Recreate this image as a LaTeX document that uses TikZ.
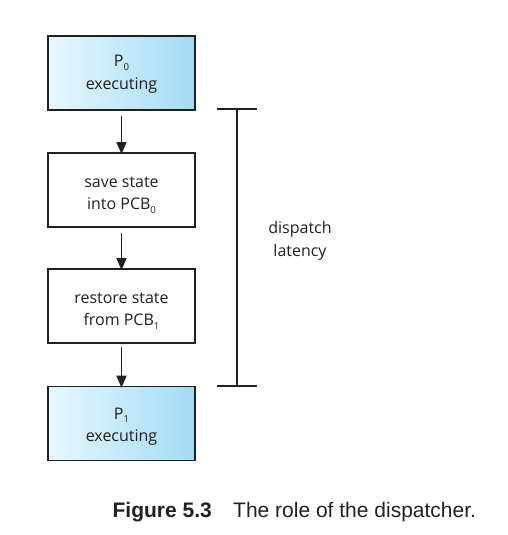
\documentclass[tikz,border=0pt]{standalone}
\usepackage{fontspec}
\setmainfont{Open Sans}
\newfontfamily\capfont{Liberation Sans}
\usetikzlibrary{arrows.meta}
\newcommand{\mysub}[1]{\raisebox{-0.45ex}{\scalebox{0.6}{#1}}}
\definecolor{lightL}{RGB}{232,248,254}
\definecolor{lightR}{RGB}{162,219,243}
\definecolor{ink}{RGB}{35,31,32}
\tikzset{
  box/.style={draw=ink, line width=1.8pt, minimum width=147pt, minimum height=74pt},
  procbox/.style={box, left color=lightL, right color=lightR},
  boxtext/.style={align=center, font=\fontsize{16}{22.5}\selectfont, text=ink},
  flow/.style={draw=ink, line width=1.5pt, -{Triangle[length=12pt,width=10pt]}},
  brk/.style={draw=ink, line width=1.4pt},
  captext/.style={font=\capfont\fontsize{21}{24}\selectfont, text=ink, inner sep=0pt}
}
\begin{document}
\begin{tikzpicture}[x=1pt,y=-1pt]
\useasboundingbox (0,0) rectangle (507,535);
\node[procbox, label={[boxtext,yshift=-1pt]center:{P\mysub{0}\\executing}}] (p0) at (121.5,73) {};
\node[box, label={[boxtext,yshift=-5pt]center:{save state\\into PCB\mysub{0}}}] (save) at (121.5,190) {};
\node[box, label={[boxtext,yshift=-5pt]center:{restore state\\from PCB\mysub{1}}}] (rest) at (121.5,306) {};
\node[procbox, label={[boxtext,yshift=-3pt]center:{P\mysub{1}\\executing}}] (p1) at (121.5,423.5) {};
\draw[flow] ([yshift=-5pt]p0.south) -- ([yshift=-2pt]save.north);
\draw[flow] ([yshift=-5pt]save.south) -- ([yshift=-2pt]rest.north);
\draw[flow] ([yshift=-3pt]rest.south) -- ([yshift=-2pt]p1.north);
\coordinate (t1) at (217,109);
\coordinate (t2) at (257,109);
\coordinate (b1) at (217,386);
\coordinate (b2) at (257,386);
\coordinate (tm) at (237,109);
\coordinate (bm) at (237,386);
\draw[brk] (t1) -- (t2);
\draw[brk] (b1) -- (b2);
\draw[brk] (tm) -- (bm);
\node[boxtext] (lat) at (300,241) {dispatch\\latency};
\node[captext, anchor=base east] (fig) at (212,517) {\textbf{Figure 5.3}};
\node[captext, anchor=base west] (cap) at (233,517) {The role of the dispatcher.};
\end{tikzpicture}
\end{document}
